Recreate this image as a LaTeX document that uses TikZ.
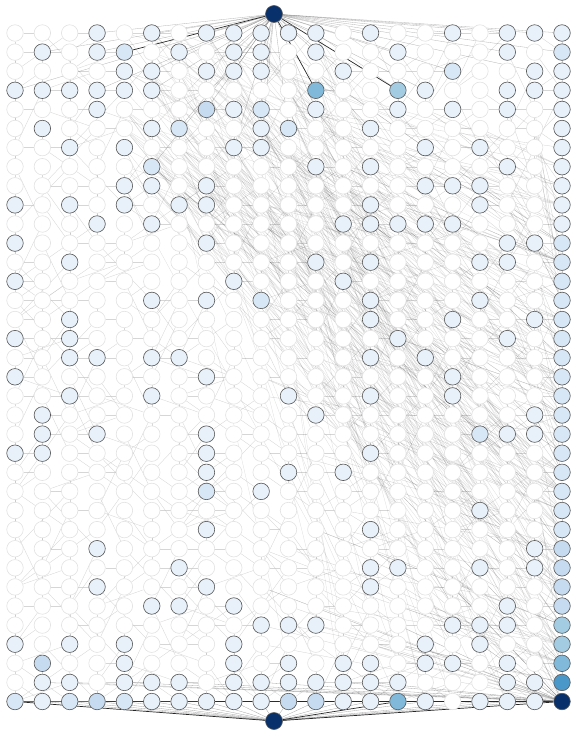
\documentclass[tikz,border=0pt]{standalone}
\usetikzlibrary{backgrounds}
\definecolor{bl1}{HTML}{E8F1FA}
\definecolor{bl2}{HTML}{D8E7F5}
\definecolor{bl3}{HTML}{C6DBEF}
\definecolor{bl4}{HTML}{A3CCE3}
\definecolor{bl5}{HTML}{80B9DA}
\definecolor{bl6}{HTML}{4A98C9}
\definecolor{bl7}{HTML}{08306B}
\definecolor{ringgray}{HTML}{E2E2E2}
\definecolor{edgegray}{HTML}{C4C4C4}
\tikzset{
  unit/.style={circle,draw=ringgray,fill=white,line width=0.6pt,minimum size=16.5pt,inner sep=0pt},
  hot/.style={unit,draw=black!65,fill=#1},
  web/.style={draw=edgegray,line width=0.35pt,opacity=0.7},
  flow/.style={draw=black!60,line width=0.3pt,opacity=0.22},
  strong/.style={draw=black!85,line width=0.7pt},
}
\begin{document}
\begin{tikzpicture}[x=1pt,y=-1pt]
\useasboundingbox (0,0) rectangle (571,731);
% grid of units
\foreach \r in {0,...,35}
  \foreach \c in {0,...,20}
    \node[unit] (n-\c-\r) at ({15+27.35*\c},{33+19.1*\r}) {};
% highlighted units: row / column-level pairs
\foreach \r/\lst in {
  0/{3/1,5/1,7/1,8/1,9/1,10/1,11/1,13/1,16/1,18/1,19/1,20/1},
  1/{1/1,3/1,4/2,6/1,8/1,9/1,11/1,14/1,18/1,20/2},
  2/{4/1,5/1,7/1,8/1,9/1,12/1,16/2,19/1,20/1},
  3/{0/1,1/1,2/1,3/1,4/1,5/1,11/5,14/4,15/1,18/1,19/1,20/1},
  4/{3/1,7/3,8/1,9/2,11/1,14/1,16/1,18/1,20/1},
  5/{1/1,5/1,6/2,9/1,10/2,13/1,20/1},
  6/{2/1,4/1,8/1,9/1,15/1,17/1,20/1},
  7/{5/2,11/1,13/1,18/1,20/1},
  8/{4/1,5/1,7/1,15/1,16/1,17/1,20/1},
  9/{0/1,2/1,4/1,6/1,7/1,13/1,17/1,20/1},
  10/{3/1,5/1,12/1,13/1,14/1,15/1,16/1,20/1},
  11/{0/1,7/1,18/1,19/1,20/2},
  12/{2/1,11/1,13/1,17/1,18/1,20/2},
  13/{0/1,8/1,12/1,20/2},
  14/{5/1,7/1,9/2,13/1,17/1,20/2},
  15/{2/1,13/1,16/1,19/1,20/2},
  16/{0/1,2/1,14/1,18/1,20/2},
  17/{2/1,3/1,5/1,6/1,13/1,15/1,20/2},
  18/{0/1,7/1,16/1,20/2},
  19/{2/1,5/1,10/1,13/1,16/1,20/2},
  20/{1/1,11/1,19/1,20/2},
  21/{1/1,3/1,7/1,17/2,18/1,19/1,20/2},
  22/{0/1,1/1,7/1,13/1,20/2},
  23/{7/1,10/1,12/1,20/2},
  24/{7/2,9/1,20/2},
  25/{17/1,20/2},
  26/{7/1,13/1,20/2},
  27/{3/1,19/1,20/3},
  28/{6/1,13/1,14/1,17/1,19/1,20/3},
  29/{3/1,7/1,13/1,20/3},
  30/{5/1,6/1,8/1,18/1,20/3},
  31/{9/1,10/1,11/1,16/1,17/1,18/1,20/4},
  32/{0/1,2/1,4/1,8/1,15/1,17/1,20/4},
  33/{1/3,4/1,8/1,10/1,12/1,13/1,15/1,16/1,18/1,20/5},
  34/{1/1,2/1,4/1,5/1,6/1,8/1,9/1,10/1,11/1,12/1,13/1,14/1,18/1,19/1,20/6},
  35/{0/2,1/1,2/2,3/3,4/2,5/1,6/1,7/1,8/1,9/1,10/3,11/3,12/1,13/1,14/5,15/1,17/1,18/1,19/1,20/7}}
  \foreach \c/\l in \lst
    \node[hot=bl\l] (h-\c-\r) at (n-\c-\r) {};
% source and sink
\node[hot=bl7,minimum size=17pt] (src) at (274,14) {};
\node[hot=bl7,minimum size=17pt] (snk) at (274,721) {};

\begin{pgfonlayer}{background}
\pgfmathsetseed{4217}
% faint web between nearby units
\foreach \r in {0,...,34}
  \foreach \c in {0,...,20}{
    \pgfmathrandominteger{\dc}{-2}{2}
    \pgfmathrandominteger{\dr}{1}{3}
    \pgfmathtruncatemacro{\tc}{max(0,min(20,\c+\dc))}
    \pgfmathtruncatemacro{\tr}{min(35,\r+\dr)}
    \draw[web] (n-\c-\r) -- (n-\tc-\tr);
    \pgfmathrandominteger{\k}{0}{2}
    \ifnum\k=0 \ifnum\c<20
      \pgfmathtruncatemacro{\nc}{\c+1}
      \draw[web] (n-\c-\r) -- (n-\nc-\r);
    \fi\fi
  }
% bundle from the upper middle down to the right
\foreach \i in {1,...,220}{
  \pgfmathrandominteger{\sc}{4}{11}
  \pgfmathrandominteger{\sr}{0}{8}
  \pgfmathrandominteger{\ta}{10}{20}
  \pgfmathrandominteger{\tb}{10}{20}
  \pgfmathtruncatemacro{\tc}{max(\ta,\tb)}
  \pgfmathrandominteger{\dr}{6}{30}
  \pgfmathtruncatemacro{\tr}{min(35,\sr+\dr)}
  \draw[flow] (n-\sc-\sr) -- (n-\tc-\tr);
}
% lines gathering into the last column
\foreach \i in {1,...,170}{
  \pgfmathrandominteger{\sc}{9}{19}
  \pgfmathrandominteger{\sr}{4}{32}
  \pgfmathrandominteger{\dr}{2}{10}
  \pgfmathtruncatemacro{\tr}{min(35,\sr+\dr)}
  \draw[flow,opacity=0.3] (n-\sc-\sr) -- (n-20-\tr);
}
% source fan
\foreach \c/\r in {3/0,5/0,7/0,8/0,9/0,10/0,11/0,13/0,16/0,18/0,19/0,20/0,
  1/1,3/1,6/1,8/1,9/1,11/1,14/1,18/1,20/1,5/2,7/2,8/2,9/2,12/2,16/2,19/2,
  0/3,3/3,5/3,15/3,7/4,9/4,11/4,10/5,6/5,8/6,9/6,5/7}
  \draw[flow,opacity=0.5] (src) -- (n-\c-\r);
\foreach \c/\r in {4/1,11/3,14/3}
  \draw[strong] (src) -- (n-\c-\r);
% sink fan and last row
\foreach \c in {1,2,3,4,5,6,7,8,9,10,11,12,13,15,17,18,19}
  \draw[flow,opacity=0.6] (snk) -- (n-\c-35);
\foreach \c in {0,14,20}
  \draw[strong] (snk) -- (n-\c-35);
\foreach \c in {0,3,7,10}
  \draw[strong,line width=0.5pt,opacity=0.7] (n-\c-35) -- (n-20-35);
\foreach \c in {1,2,4,6,9,12,13}
  \draw[flow,opacity=0.6] (n-\c-34) -- (n-20-35);
\end{pgfonlayer}
\end{tikzpicture}
\end{document}
